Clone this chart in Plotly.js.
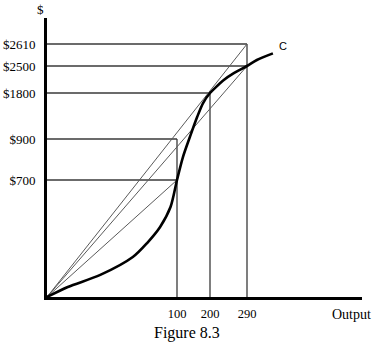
<!DOCTYPE html>
<html>
<head>
<meta charset="utf-8">
<script src="https://cdn.plot.ly/plotly-3.0.1.min.js"></script>
<style>
  html, body { margin: 0; padding: 0; background: #ffffff; }
  #chart { width: 376px; height: 354px; }
</style>
</head>
<body>
<div id="chart"></div>
<script>
// ---- Data (values as printed on the figure) ----
var outputTicks = [100, 200, 290];
var outputTickLabels = ['100', '200', '290'];
var costTicks = [700, 900, 1800, 2500, 2610];
var costTickLabels = ['$700', '$900', '$1800', '$2500', '$2610'];

// Total cost curve C (output, cost)
var curveOutput = [0, 16, 41, 66, 77, 87, 95, 100, 118, 139, 161, 179, 200, 207, 232, 256, 290, 314, 353];
var curveCost   = [0, 60, 132, 239, 323, 419, 538, 700, 812, 939, 1330, 1604, 1800, 1875, 2125, 2300, 2500, 2530, 2563];

// Rays from the origin (end points)
var rayOutput = [290, 290, 100];
var rayCost   = [2610, 2500, 700];

// Guide lines: horizontal (cost level reaching to output) and vertical (output up to cost)
var hLineCost   = [2610, 2500, 1800, 900, 700];
var hLineOutput = [290, 290, 200, 100, 100];
var vLineOutput = [100, 200, 290];
var vLineCost   = [900, 1800, 2610];

// ---- The figure's schematic (non-linear) axis scales: value anchors -> figure units ----
var xScaleValues = [0, 100, 200, 290];
var xScaleUnits  = [0, 130, 163, 200];
var yScaleValues = [0, 700, 900, 1800, 2500, 2610];
var yScaleUnits  = [0, 117, 158, 204, 231, 253];

function piecewise(vals, units) {
  return function (v) {
    var n = vals.length;
    var i = 1;
    while (i < n - 1 && v > vals[i]) i++;
    var t = (v - vals[i - 1]) / (vals[i] - vals[i - 1]);
    return units[i - 1] + t * (units[i] - units[i - 1]);
  };
}
var sx = piecewise(xScaleValues, xScaleUnits);
var sy = piecewise(yScaleValues, yScaleUnits);

var traces = [];
var guideStyle = {color: '#3a3a3a', width: 1.3};

hLineCost.forEach(function (c, i) {
  traces.push({x: [sx(0), sx(hLineOutput[i])], y: [sy(c), sy(c)], mode: 'lines',
    line: guideStyle, hoverinfo: 'skip', showlegend: false});
});
vLineOutput.forEach(function (o, i) {
  traces.push({x: [sx(o), sx(o)], y: [sy(0), sy(vLineCost[i])], mode: 'lines',
    line: guideStyle, hoverinfo: 'skip', showlegend: false});
});
rayOutput.forEach(function (o, i) {
  traces.push({x: [sx(0), sx(o)], y: [sy(0), sy(rayCost[i])], mode: 'lines',
    line: {color: '#5a5a5a', width: 1}, hoverinfo: 'skip', showlegend: false});
});
traces.push({
  x: curveOutput.map(sx), y: curveCost.map(sy), mode: 'lines',
  line: {color: '#000000', width: 2.6, shape: 'spline', smoothing: 0.8},
  hoverinfo: 'skip', showlegend: false, cliponaxis: false
});

var serif = 'Liberation Serif, Times New Roman, serif';

function label(text, x, y, size, family) {
  return {text: text, xref: 'paper', yref: 'paper', x: x, y: y,
    xanchor: 'center', yanchor: 'middle', showarrow: false,
    font: {family: family || serif, size: size, color: '#000'}};
}

var layout = {
  width: 376, height: 354,
  margin: {l: 47, r: 14, t: 18, b: 57},
  paper_bgcolor: '#ffffff', plot_bgcolor: '#ffffff',
  showlegend: false,
  xaxis: {
    range: [0, 315], showgrid: false, zeroline: false,
    showline: true, linecolor: '#000', linewidth: 3,
    tickmode: 'array', tickvals: outputTicks.map(sx), ticktext: outputTickLabels,
    ticks: '', ticklabelstandoff: 3,
    tickfont: {family: serif, size: 12.5, color: '#000'}, fixedrange: true
  },
  yaxis: {
    range: [0, 279], showgrid: false, zeroline: false,
    showline: true, linecolor: '#000', linewidth: 3,
    tickmode: 'array', tickvals: costTicks.map(sy), ticktext: costTickLabels,
    ticks: '', ticklabelstandoff: 6,
    tickfont: {family: serif, size: 13, color: '#000'}, fixedrange: true
  },
  annotations: [
    label('$', -0.022, 1.029, 13),
    label('C', 0.749, 0.9, 11, 'Liberation Sans, Arial, sans-serif'),
    label('Output', 0.968, -0.0645, 14),
    label('Figure 8.3', 0.444, -0.13, 16)
  ]
};

Plotly.newPlot('chart', traces, layout, {displayModeBar: false, staticPlot: true});
</script>
</body>
</html>
